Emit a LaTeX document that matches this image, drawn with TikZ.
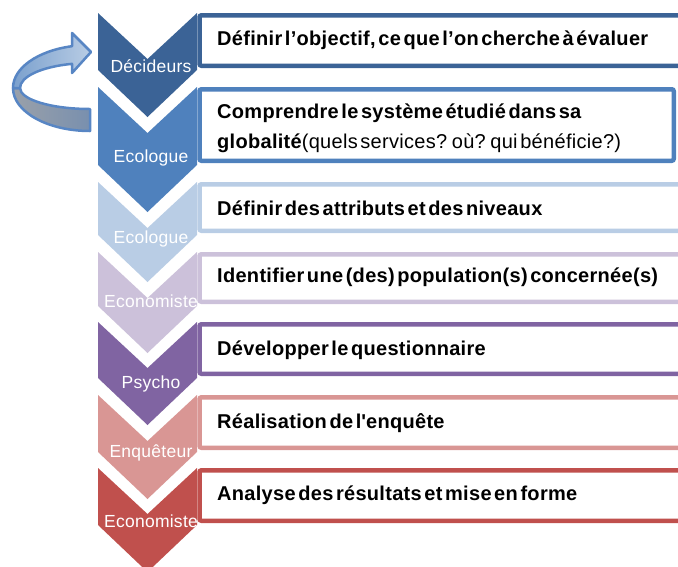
\documentclass[tikz,border=0pt]{standalone}
\usepackage{fontspec}
\setmainfont{Liberation Sans}[WordSpace=0.45,LetterSpace=1.5]

\definecolor{stepa}{HTML}{3B6396}
\definecolor{stepb}{HTML}{4F81BD}
\definecolor{stepc}{HTML}{B9CDE5}
\definecolor{stepd}{HTML}{CCC1DA}
\definecolor{stepe}{HTML}{8064A2}
\definecolor{stepf}{HTML}{D99694}
\definecolor{stepg}{HTML}{C0504D}
\definecolor{loopline}{HTML}{5886C4}

\begin{document}
\begin{tikzpicture}[x=1pt, y=-1pt,
    box/.style={line width=4.5pt, fill=white, rounded corners=2pt},
    who/.style={text=white, font=\fontsize{17.5}{20}\selectfont, anchor=base, inner sep=0pt},
    what/.style={font=\fontsize{20}{30}\selectfont\bfseries, anchor=base west, inner sep=0pt, align=left}]

    \useasboundingbox (0,0) rectangle (678,566);
    \clip (0,0) rectangle (678,566);

    % the loop back arrow
    \draw[loopline, line width=2.5pt, line join=round, left color=loopline!20!gray!75, right color=loopline!55!gray!90]
        (90,131) arc[start angle=90, end angle=180, x radius=77, y radius=43]
        -- (20,88) arc[start angle=180, end angle=90, x radius=70, y radius=21] -- cycle;
    \draw[loopline, line width=2.5pt, line join=round, left color=stepb!75, right color=stepb!40]
        (72.03,46.19) arc[start angle=256.5, end angle=180, x radius=77, y radius=43]
        -- (20,88) arc[start angle=180, end angle=255.1, x radius=70, y radius=25]
        -- (72,73) -- (91,52) -- (72,33) -- cycle;

    % chevrons
    \fill[stepa] (98,13) -- (147.5,59) -- (197,13) -- (197,70) -- (147.5,117) -- (98,70) -- cycle;
    \fill[stepb] (98,87) -- (147.5,133) -- (197,87) -- (197,165) -- (147.5,212) -- (98,165) -- cycle;
    \fill[stepc] (98,182) -- (147.5,228) -- (197,182) -- (197,235) -- (147.5,282) -- (98,235) -- cycle;
    \fill[stepd] (98,252) -- (147.5,298) -- (197,252) -- (197,306) -- (147.5,353) -- (98,306) -- cycle;
    \fill[stepe] (98,322) -- (147.5,368) -- (197,322) -- (197,378) -- (147.5,425) -- (98,378) -- cycle;
    \fill[stepf] (98,395) -- (147.5,441) -- (197,395) -- (197,452) -- (147.5,499) -- (98,452) -- cycle;
    \fill[stepg] (98,468) -- (147.5,514) -- (197,468) -- (197,525) -- (147.5,572) -- (98,525) -- cycle;

    \node[who] (dec) at (151,72) {Décideurs};
    \node[who] (eco1) at (151,162) {Ecologue};
    \node[who] (eco2) at (151,243) {Ecologue};
    \node[who] (econ1) at (151,307) {Economiste};
    \node[who] (psy) at (151,388) {Psycho};
    \node[who] (enq) at (151,457) {Enquêteur};
    \node[who] (econ2) at (151,527) {Economiste};

    % boxes
    \draw[box, draw=stepa] (199.5,15.25) rectangle (700,65.75);
    \draw[box, draw=stepb] (199.5,89.25) rectangle (673.75,160.75);
    \draw[box, draw=stepc] (199.5,184.25) rectangle (700,230.75);
    \draw[box, draw=stepd] (199.5,254.25) rectangle (700,301.75);
    \draw[box, draw=stepe] (199.5,324.25) rectangle (700,373.75);
    \draw[box, draw=stepf] (199.5,397.25) rectangle (700,447.75);
    \draw[box, draw=stepg] (199.5,470.25) rectangle (700,520.75);

    \node[what] (goal) at (217,45) {Définir l’objectif, ce que l’on cherche à évaluer};
    \node[what] (system) at (217,148) {Comprendre le système étudié dans sa\\globalité{\mdseries(quels services? où? qui bénéficie?)}};
    \node[what] (attr) at (217,215) {Définir des attributs et des niveaux};
    \node[what] (pop) at (217,282) {Identifier une (des) population(s) concernée(s)};
    \node[what] (quest) at (217,355) {Développer le questionnaire};
    \node[what] (survey) at (217,428) {Réalisation de l\textquotesingle enquête};
    \node[what] (results) at (217,500) {Analyse des résultats et mise en forme};
\end{tikzpicture}
\end{document}
